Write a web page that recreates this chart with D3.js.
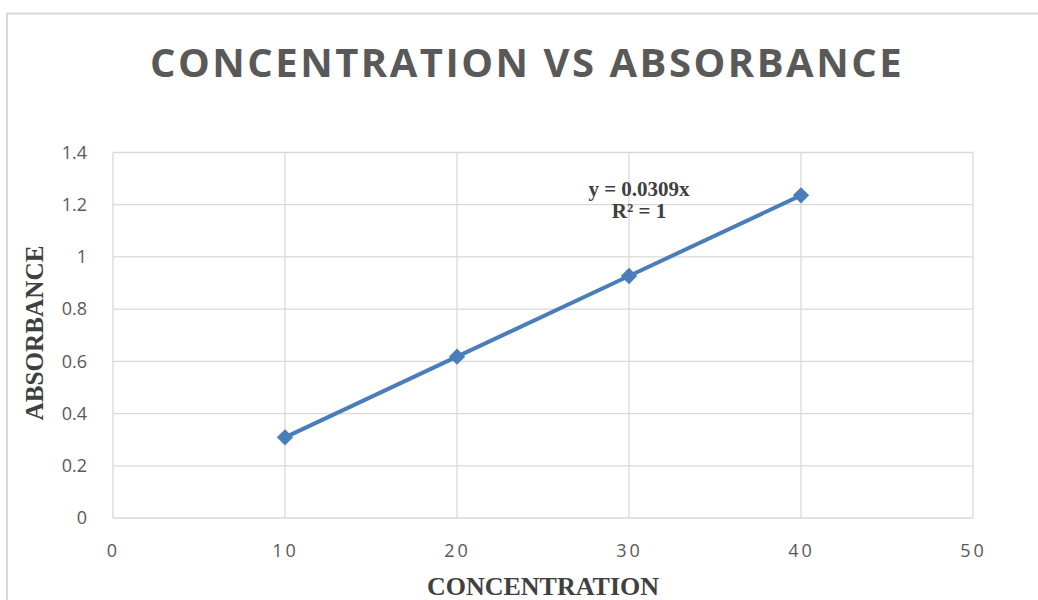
<!DOCTYPE html>
<html>
<head>
<meta charset="utf-8">
<script src="https://cdn.jsdelivr.net/npm/d3@7"></script>
<style>
  body { margin: 0; background: #fff; }
  svg { display: block; }
</style>
</head>
<body>
<script>
// data
const concentration = [10, 20, 30, 40];
const absorbance = [0.309, 0.618, 0.927, 1.236];
const xTicks = [0, 10, 20, 30, 40, 50];
const yTicks = [0, 0.2, 0.4, 0.6, 0.8, 1, 1.2, 1.4];
const titleText = "CONCENTRATION VS ABSORBANCE";
const trendText = ["y = 0.0309x", "R² = 1"];

const width = 1038, height = 600;
const svg = d3.select("body").append("svg")
    .attr("width", width)
    .attr("height", height);

// chart frame
svg.append("rect")
    .attr("x", 7).attr("y", 13.5)
    .attr("width", 1040).attr("height", 600)
    .attr("fill", "#fff")
    .attr("stroke", "#d9d9d9")
    .attr("stroke-width", 2);

const x = d3.scaleLinear().domain([0, 50]).range([113, 973]);
const y = d3.scaleLinear().domain([0, 1.4]).range([518, 152.5]);

// gridlines
svg.append("g").selectAll("line")
    .data(yTicks).enter().append("line")
    .attr("x1", x(0)).attr("x2", x(50))
    .attr("y1", d => y(d)).attr("y2", d => y(d))
    .attr("stroke", "#d9d9d9").attr("stroke-width", 1.3);

svg.append("g").selectAll("line")
    .data(xTicks).enter().append("line")
    .attr("x1", d => x(d)).attr("x2", d => x(d))
    .attr("y1", y(0)).attr("y2", y(1.4))
    .attr("stroke", "#d9d9d9").attr("stroke-width", 1.3);

// axes (labels only)
const yAxis = svg.append("g")
    .attr("transform", `translate(${x(0)},0)`)
    .call(d3.axisLeft(y).tickValues(yTicks).tickSize(0).tickPadding(26)
        .tickFormat(d => String(d)));
yAxis.select(".domain").remove();
yAxis.selectAll("text")
    .attr("font-family", "'Open Sans', sans-serif")
    .attr("font-size", 18)
    .attr("fill", "#595959");

const xAxis = svg.append("g")
    .attr("transform", `translate(0,${y(0)})`)
    .call(d3.axisBottom(x).tickValues(xTicks).tickSize(0).tickPadding(26)
        .tickFormat(d => String(d)));
xAxis.select(".domain").remove();
xAxis.selectAll("text")
    .attr("font-family", "'Open Sans', sans-serif")
    .attr("font-size", 18)
    .attr("letter-spacing", 3)
    .attr("fill", "#595959");

// title
svg.append("text")
    .attr("x", 527).attr("y", 77)
    .attr("text-anchor", "middle")
    .attr("font-family", "'Open Sans', sans-serif")
    .attr("font-weight", "bold")
    .attr("font-size", 40)
    .attr("letter-spacing", 2.5)
    .attr("fill", "#595959")
    .text(titleText);

// axis titles
svg.append("text")
    .attr("x", 543).attr("y", 595)
    .attr("text-anchor", "middle")
    .attr("font-family", "'Liberation Serif', serif")
    .attr("font-weight", "bold")
    .attr("font-size", 25)
    .attr("textLength", 232)
    .attr("lengthAdjust", "spacingAndGlyphs")
    .attr("fill", "#404040")
    .text("CONCENTRATION");

svg.append("text")
    .attr("transform", "translate(43,333) rotate(-90)")
    .attr("text-anchor", "middle")
    .attr("font-family", "'Liberation Serif', serif")
    .attr("font-weight", "bold")
    .attr("font-size", 25)
    .attr("textLength", 175)
    .attr("lengthAdjust", "spacingAndGlyphs")
    .attr("fill", "#404040")
    .text("ABSORBANCE");

// series line
const pts = concentration.map((c, i) => [c, absorbance[i]]);
svg.append("path")
    .datum(pts)
    .attr("fill", "none")
    .attr("stroke", "#4a7ebb")
    .attr("stroke-width", 4)
    .attr("d", d3.line().x(d => x(d[0])).y(d => y(d[1])));

// diamond markers
svg.append("g").selectAll("path")
    .data(pts).enter().append("path")
    .attr("transform", d => `translate(${x(d[0])},${y(d[1])})`)
    .attr("d", d3.symbol().type(d3.symbolDiamond2).size(170))
    .attr("fill", "#4a7ebb");

// trendline label
svg.append("g").selectAll("text")
    .data(trendText).enter().append("text")
    .attr("x", 639).attr("y", (d, i) => 196 + i * 22)
    .attr("text-anchor", "middle")
    .attr("font-family", "'Liberation Serif', serif")
    .attr("font-weight", "bold")
    .attr("font-size", 21)
    .attr("fill", "#404040")
    .text(d => d);
</script>
</body>
</html>
